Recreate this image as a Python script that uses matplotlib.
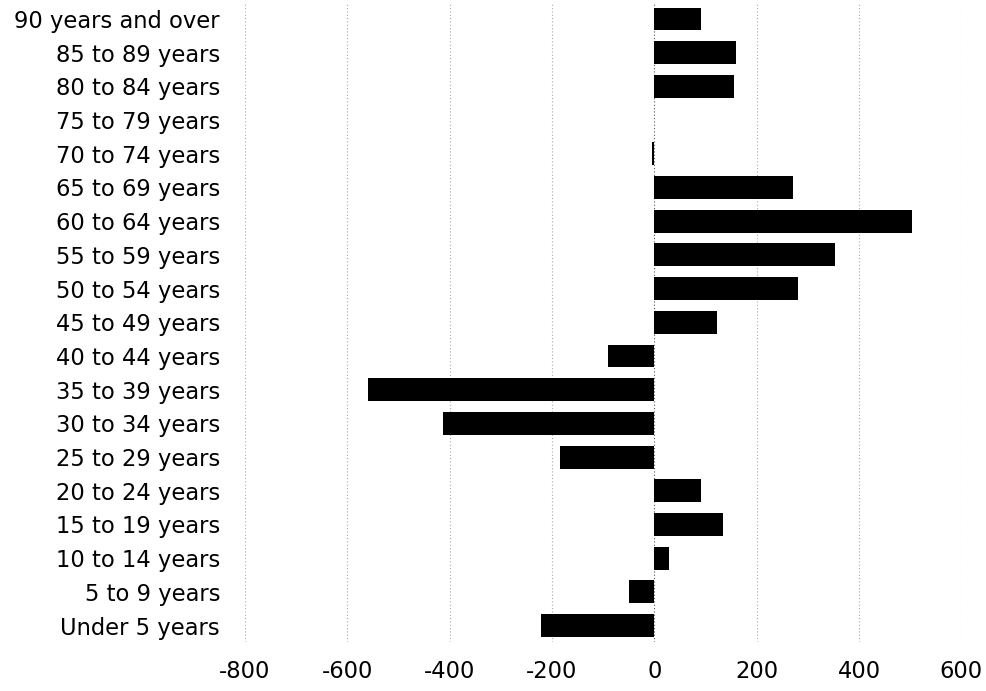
import matplotlib.pyplot as plt

# Age groups, bottom to top
age_groups = [
    "Under 5 years", "5 to 9 years", "10 to 14 years", "15 to 19 years",
    "20 to 24 years", "25 to 29 years", "30 to 34 years", "35 to 39 years",
    "40 to 44 years", "45 to 49 years", "50 to 54 years", "55 to 59 years",
    "60 to 64 years", "65 to 69 years", "70 to 74 years", "75 to 79 years",
    "80 to 84 years", "85 to 89 years", "90 years and over",
]
# Change per age group
changes = [-221, -49, 29, 135, 91, -185, -413, -560, -90, 122,
           281, 354, 503, 270, -5, 0, 155, 159, 91]

x_ticks = [-800, -600, -400, -200, 0, 200, 400, 600]

plt.rcParams['font.family'] = ['DejaVu Sans']

fig = plt.figure(figsize=(9.86, 6.91), dpi=100)
ax = fig.add_axes([0.2485, 0.0703, 0.7265, 0.9266])

ypos = range(len(age_groups))
ax.barh(ypos, changes, height=0.68, color='black', zorder=3)

ax.set_xlim(-800, 600)
ax.set_ylim(-0.5, len(age_groups) - 0.5)
ax.set_xticks(x_ticks)
ax.set_xticklabels([str(v) for v in x_ticks], fontsize=16.3)
ax.set_yticks(list(ypos))
ax.set_yticklabels(age_groups, fontsize=16.3)

ax.tick_params(axis='both', length=0)
ax.tick_params(axis='y', pad=18)
ax.tick_params(axis='x', pad=13)

for s in ax.spines.values():
    s.set_visible(False)

# dotted vertical gridlines
for v in x_ticks:
    c = '#555555' if v == 0 else '#aaaaaa'
    ax.axvline(v, color=c, linestyle=(0, (1, 2)), linewidth=0.8, zorder=1)

fig.savefig('out.png', dpi=100)
